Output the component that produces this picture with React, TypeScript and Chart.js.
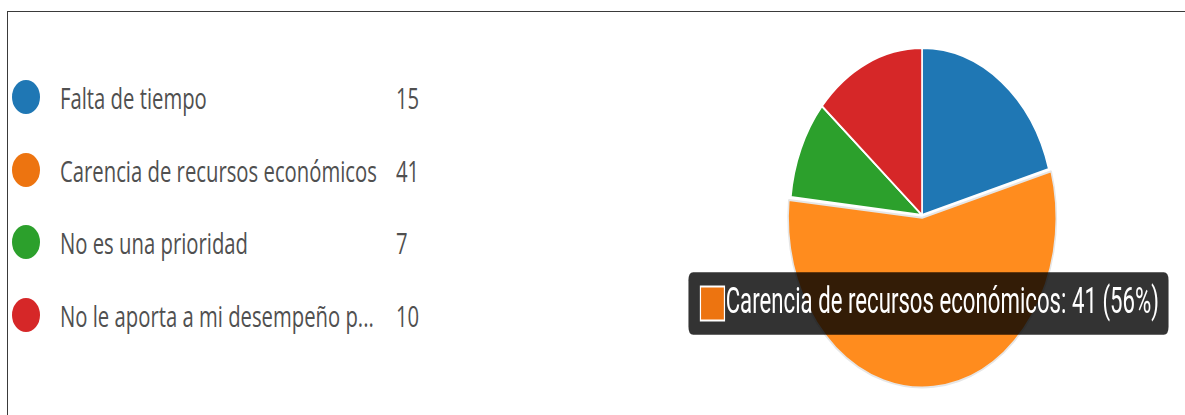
import React, { useEffect, useRef } from "react";
import { Chart, registerables, Tooltip } from "chart.js";

Chart.register(...registerables);

// ---- data ----
const categories = [
  "Falta de tiempo",
  "Carencia de recursos económicos",
  "No es una prioridad",
  "No le aporta a mi desempeño p...",
];
const counts = [15, 41, 7, 10];
const sliceColors = ["#1F77B4", "#ED7410", "#2CA02C", "#D62728"];
const sliceHoverColors = ["#2C86C8", "#FF8C1E", "#3AB33A", "#E53A3B"];
const activeIndex = 1;

// ---- layout / style ----
const W = 1185;
const H = 415;
const PIE_SX = 0.79; // horizontal squeeze of the pie
const TIP_SX = 0.6; // horizontal squeeze of the tooltip
const TIP_CX = 928.5; // tooltip centre after squeeze
const TIP_CY = 303.5;
const LEGEND_Y = [97, 169.5, 242, 314.5];
const LEGEND_TEXT_SX = 0.676;

(Tooltip.positioners as any).fixedSpot = function () {
  return { x: 600, y: TIP_CY };
};

const squeezePlugin = {
  id: "squeeze",
  beforeDatasetsDraw(chart: any) {
    const ctx = chart.ctx;
    const a = chart.chartArea;
    const cx = (a.left + a.right) / 2;
    ctx.save();
    ctx.translate(cx, 0);
    ctx.scale(PIE_SX, 1);
    ctx.translate(-cx, 0);
  },
  afterDatasetsDraw(chart: any) {
    chart.ctx.restore();
  },
  beforeTooltipDraw(chart: any, args: any) {
    const t = args.tooltip;
    const ctx = chart.ctx;
    const nat = t.x + t.width / 2;
    const x0 = (TIP_CX - TIP_SX * nat) / (1 - TIP_SX);
    ctx.save();
    ctx.translate(x0, 0);
    ctx.scale(TIP_SX, 1);
    ctx.translate(-x0, 0);
  },
  afterTooltipDraw(chart: any) {
    chart.ctx.restore();
  },
};

export default function App() {
  const canvasRef = useRef<HTMLCanvasElement | null>(null);

  useEffect(() => {
    if (!canvasRef.current) return;
    const total = counts.reduce((s, v) => s + v, 0);
    const chart = new Chart(canvasRef.current, {
      type: "pie",
      data: {
        labels: categories,
        datasets: [
          {
            data: counts,
            backgroundColor: sliceColors,
            hoverBackgroundColor: sliceHoverColors,
            borderColor: "#ffffff",
            borderWidth: 2,
            hoverBorderColor: "#e6e6e6",
            hoverBorderWidth: 2,
            hoverOffset: 11,
          },
        ],
      },
      options: {
        responsive: false,
        animation: false,
        devicePixelRatio: 1,
        events: [],
        radius: 167,
        layout: { padding: { left: 659, right: 0, top: 15, bottom: 0 } },
        plugins: {
          legend: { display: false },
          tooltip: {
            enabled: true,
            position: "fixedSpot" as any,
            xAlign: "center",
            yAlign: "center",
            caretSize: 0,
            caretPadding: 0,
            backgroundColor: "rgba(0,0,0,0.8)",
            bodyColor: "#ffffff",
            bodyFont: { family: "Roboto", size: 37 },
            padding: { left: 20, right: 16, top: 9, bottom: 9 },
            boxWidth: 40,
            boxHeight: 34,
            cornerRadius: 8,
            displayColors: true,
            callbacks: {
              title: () => "",
              label: (item: any) =>
                `${item.label}: ${item.raw} (${Math.round((item.raw / total) * 100)}%)`,
            },
          },
        },
      } as any,
      plugins: [squeezePlugin],
    });
    const act = [{ datasetIndex: 0, index: activeIndex }];
    chart.setActiveElements(act);
    chart.tooltip?.setActiveElements(act, { x: 900, y: 300 });
    chart.update();
    return () => chart.destroy();
  }, []);

  const textStyle: React.CSSProperties = {
    position: "absolute",
    font: "30px 'Open Sans', sans-serif",
    lineHeight: "30px",
    color: "#505050",
    whiteSpace: "nowrap",
    transform: `scaleX(${LEGEND_TEXT_SX})`,
    transformOrigin: "0 0",
  };

  return (
    <div
      style={{
        position: "fixed",
        left: 0,
        top: 0,
        width: W,
        height: H,
        overflow: "hidden",
        background: "#ffffff",
      }}
    >
      <div
        style={{
          position: "absolute",
          left: 7,
          top: 11,
          width: W - 7,
          height: H - 11,
          borderTop: "1px solid #3a3a3a",
          borderLeft: "1px solid #3a3a3a",
          boxSizing: "border-box",
        }}
      />
      {categories.map((c, i) => (
        <React.Fragment key={c}>
          <div
            style={{
              position: "absolute",
              left: 12,
              top: LEGEND_Y[i] - 17,
              width: 28,
              height: 34,
              borderRadius: "50%",
              background: sliceColors[i],
            }}
          />
          <div style={{ ...textStyle, left: 60, top: LEGEND_Y[i] - 14 }}>{c}</div>
          <div style={{ ...textStyle, left: 396, top: LEGEND_Y[i] - 14 }}>{counts[i]}</div>
        </React.Fragment>
      ))}
      <canvas
        ref={canvasRef}
        width={W}
        height={H}
        style={{ position: "absolute", left: 0, top: 0, width: W, height: H }}
      />
    </div>
  );
}
